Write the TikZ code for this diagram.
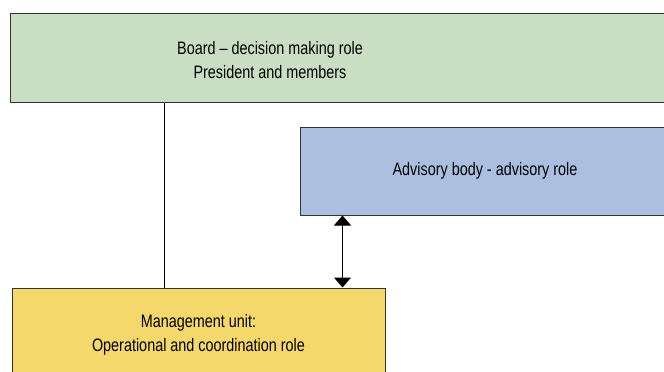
\documentclass[tikz,border=0pt]{standalone}
\usepackage{fontspec}
\setmainfont[FakeStretch=0.8]{Liberation Sans}
\usepackage{tikz}
\usetikzlibrary{arrows.meta, calc}

\definecolor{boardgreen}{HTML}{C9DEC3}
\definecolor{advblue}{HTML}{ABC0E1}
\definecolor{mgmtyellow}{HTML}{F4D86C}
\definecolor{edgegray}{HTML}{333333}

\tikzset{
  unit/.style={draw=edgegray, line width=1pt, inner sep=0pt},
  label/.style={align=center, font=\fontsize{18}{24}\selectfont},
  link/.style={draw=black, line width=1pt},
}

\begin{document}
\begin{tikzpicture}[x=1pt, y=-1pt]
\useasboundingbox (0,0) rectangle (664,372);
\clip (0,0) rectangle (664,372);
\fill[white] (0,0) rectangle (664,372);

\node[unit, fill=boardgreen, minimum width=690pt, minimum height=89pt] (board) at (355,57.5) {};
\node[label] (boardtext) at (270,60) {Board -- decision making role\\President and members};

\node[unit, fill=advblue, minimum width=370pt, minimum height=88pt, label] (advisory) at (485,171) {Advisory body - advisory role};

\node[unit, fill=mgmtyellow, minimum width=373pt, minimum height=100pt] (mgmt) at (198.5,338) {};
\node[label] (mgmttext) at (198.5,335) {Management unit:\\Operational and coordination role};

\draw[link] ($(board.south west) + (155,0)$) -- ($(mgmt.north west) + (153,0)$);
\draw[link, {Triangle[width=17pt,length=10pt]}-{Triangle[width=17pt,length=10pt]}]
  ($(advisory.south west) + (43,0)$) -- ($(mgmt.north west) + (331,0)$);
\end{tikzpicture}
\end{document}
